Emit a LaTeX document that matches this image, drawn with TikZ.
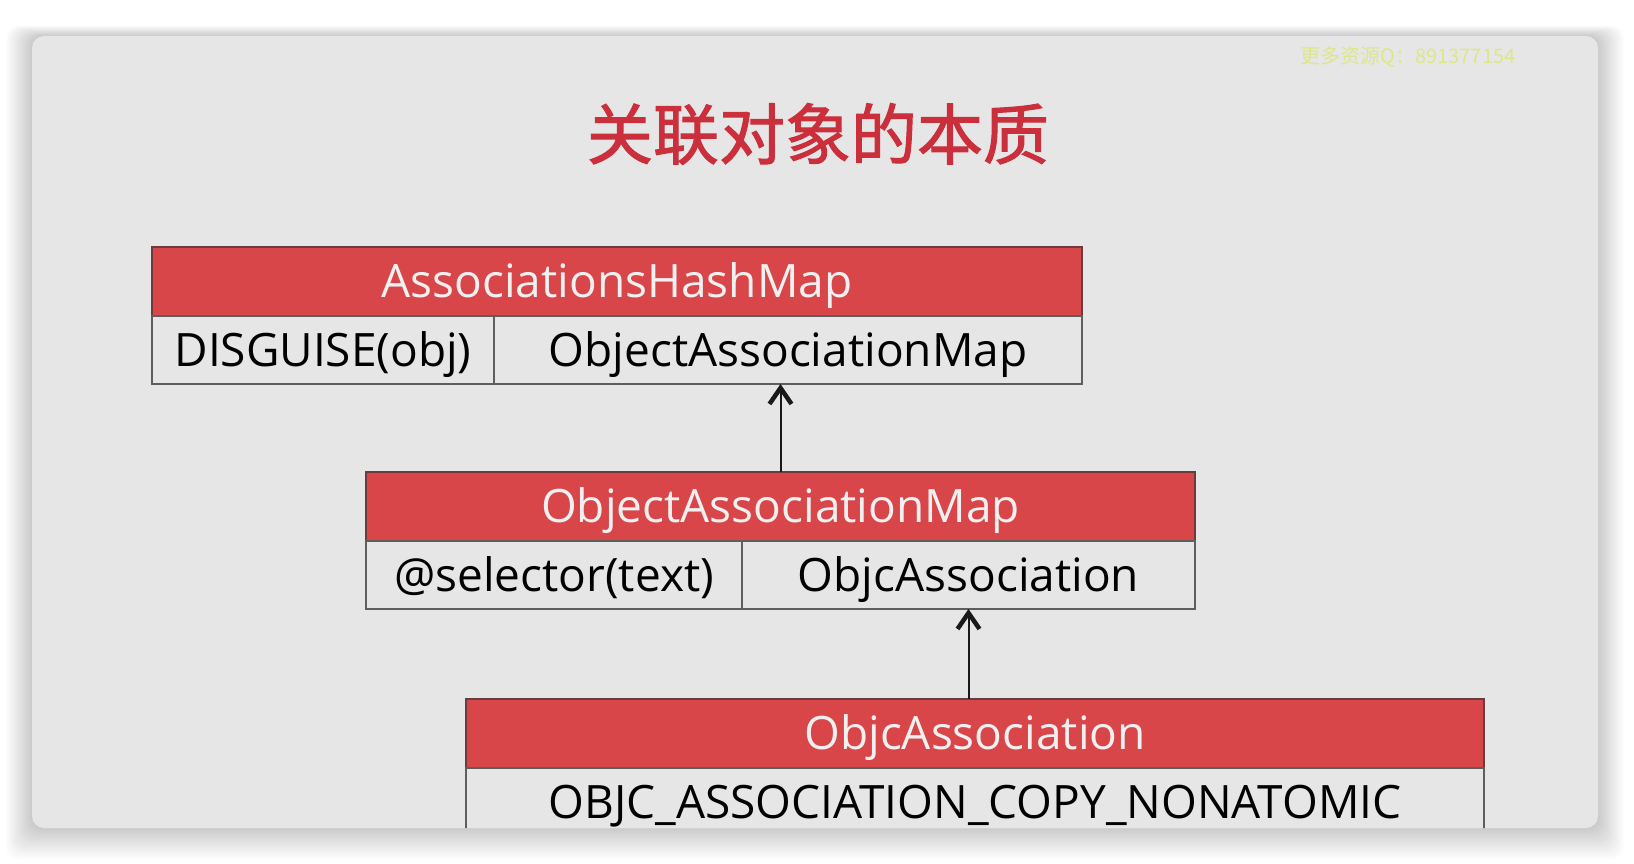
\documentclass[tikz,border=0pt]{standalone}
\usepackage{fontspec}
\setmainfont{Open Sans}
\newfontfamily\cjk{Noto Sans CJK SC}
\newfontfamily\cjkmid{Noto Sans CJK SC}[FakeBold=1.6]
\usepackage{tikz}
\usetikzlibrary{arrows.meta, positioning}
\definecolor{slidegray}{HTML}{E6E6E6}
\definecolor{headred}{HTML}{D8464A}
\definecolor{headline}{HTML}{6A3C3E}
\definecolor{cellline}{HTML}{5E5E5E}
\definecolor{titlered}{HTML}{CB2F3B}
\definecolor{markgreen}{HTML}{DDE78A}
\tikzset{
  header/.style={rectangle, draw=headline, fill=headred, line width=2pt,
                 minimum height=68.5pt, inner sep=0pt, outer sep=0pt,
                 text=white!94!black, font=\fontsize{46}{54}\selectfont,
                 text height=33pt, text depth=0pt},
  cell/.style={header, draw=cellline, fill=slidegray, text=black},
  arrow/.style={-{Straight Barb[length=16pt, width=22pt, line width=4.5pt]},
                line width=2pt, color=black!90},
  title/.style={font=\cjkmid\fontsize{66}{70}\selectfont, text=titlered},
  watermark/.style={font=\cjk\fontsize{20}{24}\selectfont, text=markgreen},
}

\begin{document}
\begin{tikzpicture}[x=1pt, y=-1pt]
  \useasboundingbox (0,0) rectangle (1634,864);

  % soft shadow round the slide
  \foreach \s in {1,...,26}
    \fill[black, opacity=0.007, rounded corners=12pt]
      (32-\s,36-0.4*\s) rectangle (1598+\s,828+1.2*\s);

  % slide
  \fill[slidegray, rounded corners=12pt] (32,36) rectangle (1598,828);

  \begin{scope}
    \clip[rounded corners=12pt] (32,36) rectangle (1598,828);

    \node[watermark] (qq) at (1408,57) {更多资源Q：891377154};
    \node[title] (title) at (818,134) {关联对象的本质};

    % AssociationsHashMap
    \node[header, minimum width=930pt, anchor=north west] (hashmap) at (152,247)
      {AssociationsHashMap};
    \node[cell, minimum width=342pt, below=0pt of hashmap.south west, anchor=north west]
      (disguise) {DISGUISE(obj)};
    \node[cell, minimum width=588pt, right=0pt of disguise] (objmap) {ObjectAssociationMap};

    % ObjectAssociationMap
    \node[header, minimum width=829pt, anchor=north west] (assocmap) at (366,472)
      {ObjectAssociationMap};
    \node[cell, minimum width=376pt, below=0pt of assocmap.south west, anchor=north west]
      (selector) {@selector(text)};
    \node[cell, minimum width=453pt, right=0pt of selector] (objcmap) {ObjcAssociation};

    % ObjcAssociation
    \node[header, minimum width=1018pt, anchor=north west] (objcassoc) at (466,699)
      {ObjcAssociation};
    \node[cell, minimum width=1018pt, below=0pt of objcassoc] (policy)
      {OBJC\_ASSOCIATION\_COPY\_NONATOMIC};

    % Arrows
    \draw[arrow] (assocmap.north) -- (assocmap.north |- objmap.south);
    \draw[arrow] (objcmap.south |- objcassoc.north) -- (objcmap.south);
  \end{scope}

\end{tikzpicture}
\end{document}
